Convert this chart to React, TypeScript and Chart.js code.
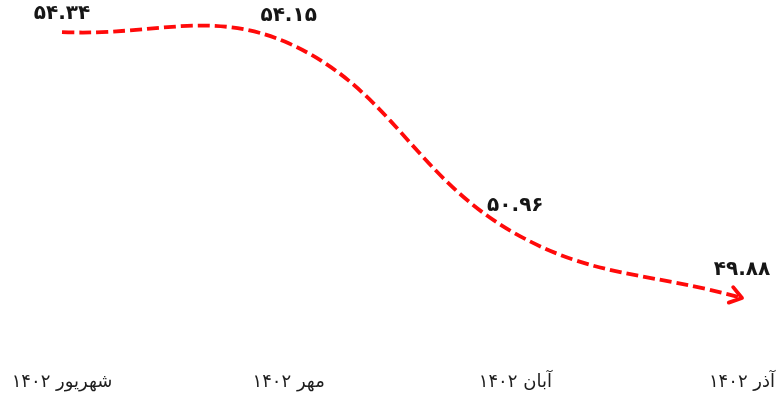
import React, { useEffect, useRef } from "react";
import { Chart, registerables } from "chart.js";

Chart.register(...registerables);

const categories: string[] = ["شهریور ۱۴۰۲", "مهر ۱۴۰۲", "آبان ۱۴۰۲", "آذر ۱۴۰۲"];
const values: number[] = [54.34, 54.15, 50.96, 49.88];
const yMin = 48.975;
const yMax = 54.877;

const FONT = "'DejaVu Sans', sans-serif";
const LINE_COLOR = "#ff0a0a";

const toPersianDigits = (s: string) => s.replace(/\d/g, (d) => "۰۱۲۳۴۵۶۷۸۹"[Number(d)]);

const labelsAndArrowPlugin = {
  id: "labelsAndArrow",
  afterDatasetsDraw(chart: any) {
    const meta = chart.getDatasetMeta(0);
    const ctx: CanvasRenderingContext2D = chart.ctx;
    const pts = meta.data;
    ctx.save();
    // arrow head at the last point
    const last = pts[pts.length - 1];
    const ang = Math.atan2(last.y - last.cp1y, last.x - last.cp1x);
    const len = 14;
    const spread = (35 * Math.PI) / 180;
    ctx.strokeStyle = LINE_COLOR;
    ctx.lineWidth = 3.8;
    ctx.lineCap = "round";
    ctx.lineJoin = "round";
    ctx.setLineDash([]);
    ctx.beginPath();
    ctx.moveTo(last.x - len * Math.cos(ang - spread), last.y - len * Math.sin(ang - spread));
    ctx.lineTo(last.x, last.y);
    ctx.lineTo(last.x - len * Math.cos(ang + spread), last.y - len * Math.sin(ang + spread));
    ctx.stroke();

    // value labels
    ctx.font = `bold 20px ${FONT}`;
    ctx.fillStyle = "#161616";
    ctx.textAlign = "center";
    ctx.textBaseline = "middle";
    pts.forEach((p: any, i: number) => {
      const txt = toPersianDigits(values[i].toFixed(2));
      const y = Math.max(p.y - 28, 14);
      ctx.fillText(txt, p.x, y);
    });
    ctx.restore();
  },
};

export default function App() {
  const canvasRef = useRef<HTMLCanvasElement | null>(null);

  useEffect(() => {
    document.body.style.margin = "0";
    const canvas = canvasRef.current;
    if (!canvas) return;
    const chart = new Chart(canvas, {
      type: "line",
      data: {
        labels: categories,
        datasets: [
          {
            data: values,
            borderColor: LINE_COLOR,
            borderWidth: 3.8,
            borderDash: [12, 5],
            borderCapStyle: "butt",
            tension: 0.4,
            fill: false,
            pointRadius: 0,
            pointHoverRadius: 0,
          },
        ],
      },
      options: {
        responsive: false,
        animation: false,
        devicePixelRatio: 1,
        layout: { padding: 0 },
        plugins: {
          legend: { display: false },
          tooltip: { enabled: false },
          title: { display: false },
        },
        scales: {
          x: {
            type: "category",
            offset: false,
            grid: { display: false, drawTicks: false },
            border: { display: false },
            ticks: {
              font: { family: FONT, size: 18 },
              color: "#1e1e1e",
              padding: 20,
              maxRotation: 0,
              autoSkip: false,
            },
            afterFit: (scale: any) => {
              scale.height = 50;
              scale.paddingLeft = 62;
              scale.paddingRight = 42;
            },
          },
          y: {
            display: false,
            min: yMin,
            max: yMax,
          },
        },
      },
      plugins: [labelsAndArrowPlugin],
    });
    return () => chart.destroy();
  }, []);

  return (
    <div style={{ width: 784, height: 402, background: "#fff" }}>
      <canvas ref={canvasRef} width={784} height={402} />
    </div>
  );
}
